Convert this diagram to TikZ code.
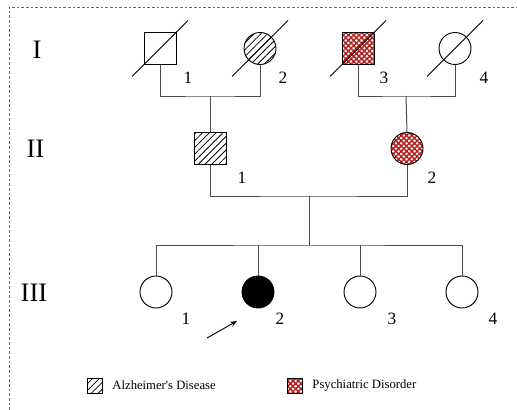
\documentclass[tikz,border=0pt]{standalone}
\usepackage[svgnames]{xcolor}
\usepackage{fontspec}
\setmainfont{Liberation Serif}
\usepackage{tikz}
\usetikzlibrary{arrows.meta,patterns.meta}

\newcommand{\deceased}[1]{\draw[shift={(#1)}] (-28,28) -- (28,-28);}

\begin{document}
\begin{tikzpicture}[x=0.75pt,y=-0.75pt, line width=0.7pt,
      every node/.append style={inner sep=0pt}]
    \tikzstyle{male} = [draw,rectangle,minimum size=24pt]
    \tikzstyle{female} = [draw,circle,minimum size=24pt]
    \tikzstyle{alz} = [pattern={Lines[angle=45,distance=3.6pt,line width=0.6pt]}]
    \tikzstyle{psy} = [pattern={Hatch[angle=45,distance=2.8pt,line width=1.1pt]},pattern color=FireBrick]
    \tikzstyle{gen} = [font=\fontsize{20}{22}\selectfont]
    \tikzstyle{num} = [font=\fontsize{13}{15}\selectfont]
    \tikzstyle{link} = [draw=black!70,line width=0.75pt]
    \tikzstyle{legend} = [font=\fontsize{9.5}{11}\selectfont,anchor=west]
    \useasboundingbox (0,0) rectangle (517,410);
    \draw[black!60,dash pattern=on 2pt off 1.5pt] (9,410) -- (9,7) -- (517,7);

    % generations
    \node[gen] (gen1) at (37,50) {I};
    \node[gen] (gen2) at (35.5,149) {II};
    \node[gen] (gen3) at (34,292.5) {III};

    % generation I
    \node[male] (i1) at (160,48.5) {};
    \node[female,alz] (i2) at (260,48.5) {};
    \node[male,psy] (i3) at (358,48.5) {};
    \node[female] (i4) at (455,48.5) {};
    \deceased{i1} \deceased{i2} \deceased{i3} \deceased{i4}
    \node[num] (n-i1) at (188,77.5) {1};
    \node[num] (n-i2) at (283,77.5) {2};
    \node[num] (n-i3) at (384,77.5) {3};
    \node[num] (n-i4) at (484,77.5) {4};

    % generation II
    \node[male,alz] (ii1) at (210,148.5) {};
    \node[female,psy] (ii2) at (407,148.5) {};
    \node[num] (n-ii1) at (242,178) {1};
    \node[num] (n-ii2) at (432,178) {2};

    % generation III
    \node[female] (iii1) at (156,292) {};
    \node[female,fill=black] (iii2) at (258,292) {};
    \node[female] (iii3) at (360,292) {};
    \node[female] (iii4) at (462,292) {};
    \node[num] (n-iii1) at (186,319) {1};
    \node[num] (n-iii2) at (280,319) {2};
    \node[num] (n-iii3) at (392,319) {3};
    \node[num] (n-iii4) at (493,319) {4};

    % marriages and descent
    \coordinate (m1) at (210,96);
    \coordinate (m2) at (406,96);
    \coordinate (m3) at (309,196);
    \coordinate (sib) at (309,245);
    \draw[link] (i1.south) |- (m1) -| (i2.south);
    \draw[link] (m1) -- (ii1.north);
    \draw[link] (i3.south) |- (m2) -| (i4.south);
    \draw[link] (m2) -- (ii2.north);
    \draw[link] (ii1.south) |- (m3) -| (ii2.south);
    \draw[link] (m3) -- (sib);
    \draw[link] (iii1.north) |- (sib) -| (iii4.north);
    \draw[link] (iii2.north) -- (iii2.north |- sib);
    \draw[link] (iii3.north) -- (iii3.north |- sib);

    % proband
    \coordinate (pb-tail) at (207,338);
    \coordinate (pb-head) at (237,321);
    \draw[-{Stealth[length=5pt,width=4pt]}] (pb-tail) -- (pb-head);

    % legend
    \node[draw,minimum size=11.25pt,alz] (key-alz) at (94.5,385.5) {};
    \node[legend] (txt-alz) at (112,385.5) {Alzheimer\textquotesingle s Disease};
    \node[draw,minimum size=11.25pt,psy] (key-psy) at (294.5,385.5) {};
    \node[legend] (txt-psy) at (312,385.5) {Psychiatric Disorder};
  \end{tikzpicture}
\end{document}
